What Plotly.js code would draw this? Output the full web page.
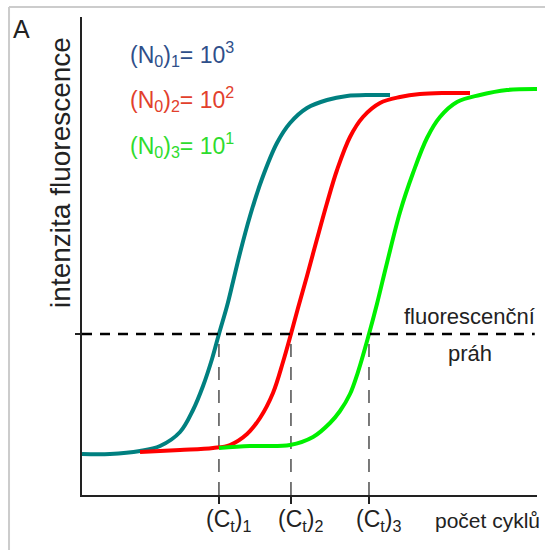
<!DOCTYPE html>
<html>
<head>
<meta charset="utf-8">
<script src="https://cdn.plot.ly/plotly-3.0.1.min.js"></script>
<style>html,body{margin:0;padding:0;background:#fff;}#chart{width:545px;height:550px;}</style>
</head>
<body>
<div id="chart"></div>
<script>
// Data (cycle number vs. fluorescence intensity, arbitrary units)
const cycles1 = [0, 2.46, 5.10, 6.86, 8.62, 9.76, 10.64, 11.43, 12.04, 12.75, 13.27, 13.89, 14.77, 15.82, 17.14, 18.29, 19.78, 21.54, 23.30, 25.32, 27.08];
const fluor1  = [8.58, 8.58, 9.21, 10.25, 13.18, 17.78, 22.80, 28.45, 33.68, 39.54, 44.56, 50.63, 58.37, 66.11, 73.64, 77.82, 80.96, 82.64, 83.47, 83.68, 83.68];
const cycles2 = [5.10, 8.62, 11.52, 13.01, 14.51, 15.65, 16.79, 17.67, 18.37, 18.99, 19.78, 20.66, 21.54, 22.42, 23.56, 24.70, 26.20, 27.96, 29.71, 31.91, 34.11];
const fluor2  = [9.00, 9.41, 9.83, 10.46, 12.76, 16.11, 21.34, 27.82, 33.68, 39.12, 45.82, 53.56, 61.09, 67.99, 74.90, 79.08, 82.01, 83.26, 83.89, 84.10, 84.10];
const cycles3 = [12.04, 14.77, 18.29, 20.31, 21.80, 22.68, 23.56, 24.26, 25.23, 25.93, 26.81, 27.96, 29.10, 30.33, 31.47, 32.97, 34.99, 37.36, 40.00];
const fluor3  = [9.83, 10.25, 10.46, 12.13, 15.06, 17.57, 21.13, 25.73, 33.68, 39.96, 48.54, 59.21, 67.36, 74.69, 79.08, 82.22, 83.68, 84.73, 84.94];
const threshold = 33.68;
const ctValues = [12.04, 18.37, 25.23];
const ctLabels = ["(C<sub>t</sub>)<sub>1</sub>", "(C<sub>t</sub>)<sub>2</sub>", "(C<sub>t</sub>)<sub>3</sub>"];
const seriesLabels = ["(N<sub>0</sub>)<sub>1</sub>= 10<sup>3</sup>", "(N<sub>0</sub>)<sub>2</sub>= 10<sup>2</sup>", "(N<sub>0</sub>)<sub>3</sub>= 10<sup>1</sup>"];
const xRange = [0, 40];
const yRange = [0, 100];

const FONT = "Liberation Sans, Arial, sans-serif";
const lineColors = ["#008080", "#ff0000", "#00f000"];
const labelColors = ["#2f4f8a", "#e2402c", "#2edc2e"];

const traces = [
  {x: cycles1, y: fluor1, color: lineColors[0]},
  {x: cycles2, y: fluor2, color: lineColors[1]},
  {x: cycles3, y: fluor3, color: lineColors[2]}
].map(s => ({
  x: s.x, y: s.y, type: "scatter", mode: "lines",
  line: {color: s.color, width: 4, shape: "spline", smoothing: 1},
  hoverinfo: "skip", showlegend: false
}));

const shapes = [];
// threshold line
shapes.push({type: "line", xref: "x", yref: "y", x0: xRange[0], x1: 39.8, y0: threshold, y1: threshold,
  line: {color: "#000", width: 2.6, dash: "10px,8px"}, layer: "above"});
// Ct drop lines
ctValues.forEach(c => shapes.push({type: "line", xref: "x", yref: "y", x0: c, x1: c, y0: 0, y1: threshold,
  line: {color: "#333", width: 1.3, dash: "13px,10px"}, layer: "below"}));
// frame (light grey edge of the original figure)
shapes.push({type: "line", xref: "paper", yref: "paper", x0: -0.1604, x1: -0.1604, y0: 1.0209, y1: -0.2, line: {color: "#cccccc", width: 2}});
shapes.push({type: "line", xref: "paper", yref: "paper", x0: -0.1604, x1: 1.1, y0: 1.0209, y1: 1.0209, line: {color: "#cccccc", width: 2}});

const annotations = [];
annotations.push({text: "A", xref: "paper", yref: "paper", x: -0.134, y: 0.975, xanchor: "center", yanchor: "middle",
  showarrow: false, font: {family: FONT, size: 25, color: "#222"}});
annotations.push({text: "intenzita fluorescence", xref: "paper", yref: "paper", x: -0.046, y: 0.674, textangle: -90,
  xanchor: "center", yanchor: "middle", showarrow: false, font: {family: FONT, size: 28, color: "#222"}});
const legendY = [0.9226, 0.8285, 0.7322];
seriesLabels.forEach((t, i) => annotations.push({text: t, xref: "paper", yref: "paper", x: 0.101, y: legendY[i],
  xanchor: "left", yanchor: "middle", showarrow: false, font: {family: FONT, size: 23, color: labelColors[i]}}));
annotations.push({text: "fluorescenční", xref: "x", yref: "y", x: 34.1, y: 37.4, xanchor: "center", yanchor: "middle",
  showarrow: false, font: {family: FONT, size: 22, color: "#222"}});
annotations.push({text: "práh", xref: "x", yref: "y", x: 34.1, y: 29.7, xanchor: "center", yanchor: "middle",
  showarrow: false, font: {family: FONT, size: 22, color: "#222"}});
ctValues.forEach((c, i) => annotations.push({text: ctLabels[i], xref: "x", yref: "paper", x: c, xshift: 10,
  y: -0.018, xanchor: "center", yanchor: "top", showarrow: false, font: {family: FONT, size: 23, color: "#222"}}));
annotations.push({text: "počet cyklů", xref: "paper", yref: "paper", x: 0.892, y: -0.054, xanchor: "center", yanchor: "middle",
  showarrow: false, font: {family: FONT, size: 21, color: "#222"}});

const layout = {
  width: 545, height: 550,
  margin: {l: 82, r: 8, t: 17, b: 55, pad: 0},
  paper_bgcolor: "#fff", plot_bgcolor: "#fff",
  showlegend: false,
  xaxis: {range: xRange, showgrid: false, zeroline: false, showline: true, linecolor: "#222", linewidth: 1.6,
    tickvals: ctValues, ticks: "outside", ticklen: 7, tickwidth: 1.3, tickcolor: "#222", showticklabels: false, fixedrange: true},
  yaxis: {range: yRange, showgrid: false, zeroline: false, showline: true, linecolor: "#222", linewidth: 1.6,
    tickvals: [threshold], ticks: "outside", ticklen: 5, tickwidth: 1.6, tickcolor: "#222", showticklabels: false, fixedrange: true},
  shapes: shapes,
  annotations: annotations
};

Plotly.newPlot("chart", traces, layout, {displayModeBar: false, staticPlot: true});
</script>
</body>
</html>
